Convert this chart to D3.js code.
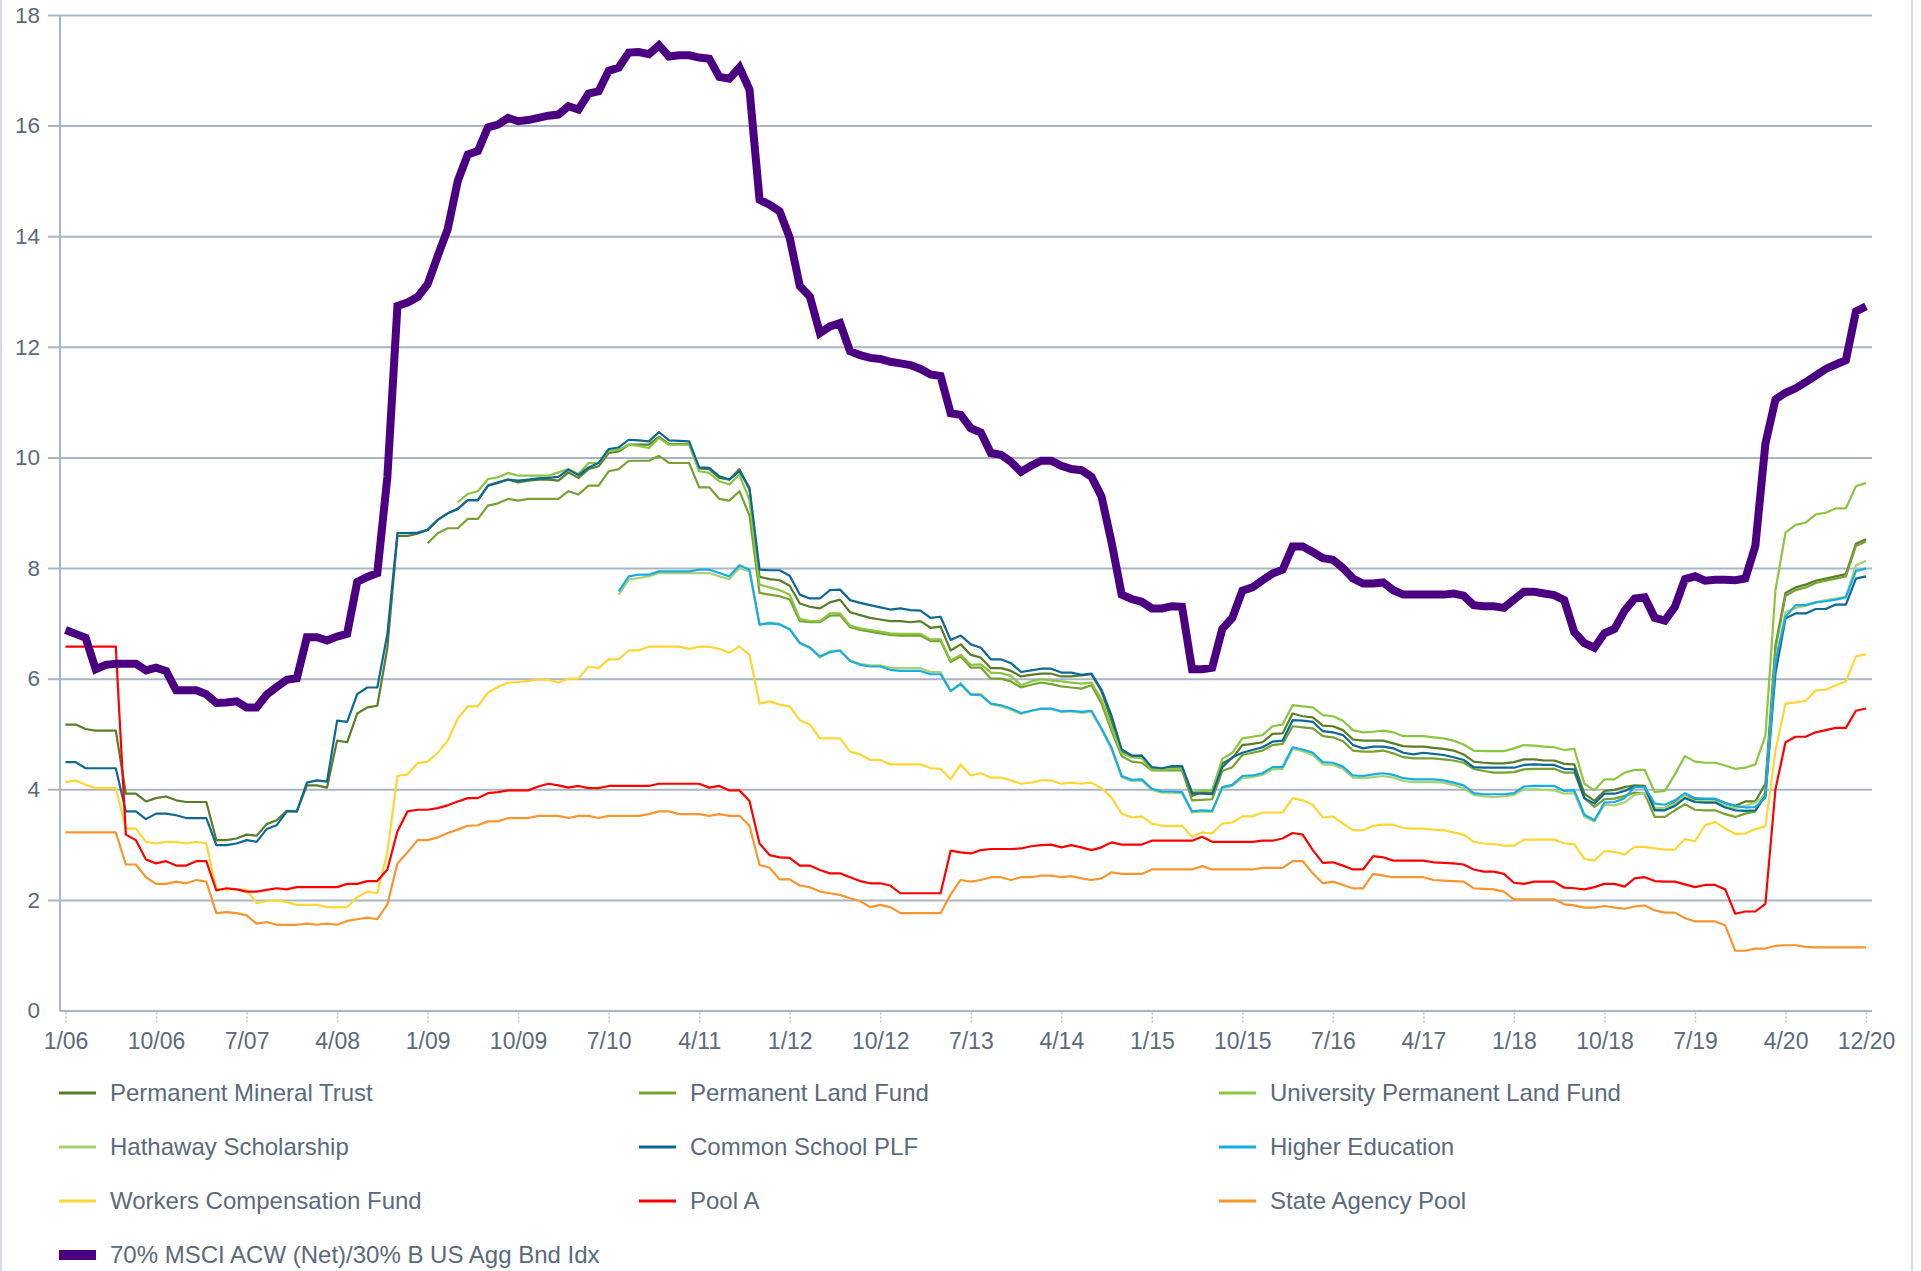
<!DOCTYPE html>
<html><head><meta charset="utf-8">
<script src="https://cdn.jsdelivr.net/npm/d3@7"></script>
<style>
html,body{margin:0;padding:0;background:#fff;}
svg{display:block;font-family:"Liberation Sans",Arial,sans-serif;}
</style></head>
<body><svg id="chart" width="1921" height="1271"></svg>
<script>
// ---------- DATA ----------
const startYear = 2006;
const months = d3.range(180).map(i => `${(i % 12) + 1}/${String((startYear + Math.floor(i / 12)) % 100).padStart(2, "0")}`);
const tickLabels = ["1/06","10/06","7/07","4/08","1/09","10/09","7/10","4/11","1/12","10/12","7/13","4/14","1/15","10/15","7/16","4/17","1/18","10/18","7/19","4/20","12/20"];
const yTicks = [0,2,4,6,8,10,12,14,16,18];

const permanentMineralTrust = [5.17,5.17,5.09,5.06,5.06,5.06,3.92,3.92,3.78,3.84,3.87,3.80,3.77,3.77,3.77,3.08,3.08,3.11,3.18,3.16,3.37,3.44,3.61,3.60,4.07,4.07,4.03,4.88,4.85,5.37,5.48,5.51,6.56,8.58,8.58,8.62,8.69,8.87,8.99,9.07,9.23,9.23,9.49,9.54,9.60,9.55,9.58,9.60,9.60,9.58,9.73,9.63,9.79,9.84,10.08,10.11,10.23,10.23,10.23,10.37,10.24,10.24,10.24,9.80,9.79,9.63,9.60,9.79,9.42,7.84,7.80,7.78,7.68,7.36,7.30,7.27,7.38,7.43,7.20,7.15,7.10,7.07,7.04,7.04,7.02,7.04,6.92,6.94,6.51,6.62,6.43,6.38,6.19,6.19,6.14,6.04,6.07,6.09,6.09,6.04,6.04,6.06,6.08,5.77,5.23,4.68,4.59,4.61,4.36,4.36,4.40,4.40,3.88,3.95,3.93,4.47,4.56,4.80,4.82,4.85,5.00,5.01,5.37,5.32,5.30,5.15,5.14,5.07,4.90,4.88,4.88,4.88,4.83,4.78,4.77,4.77,4.75,4.73,4.70,4.63,4.50,4.48,4.47,4.47,4.49,4.54,4.54,4.52,4.52,4.46,4.45,3.92,3.79,3.97,3.99,4.04,4.07,4.06,3.63,3.66,3.76,3.88,3.82,3.82,3.82,3.75,3.70,3.78,3.78,4.10,6.60,7.55,7.65,7.70,7.77,7.81,7.85,7.89,8.44,8.52];

const N36 = Array(36).fill(null), N39 = Array(39).fill(null), N55 = Array(55).fill(null);

const permanentLandFund = N36.concat([8.45,8.63,8.72,8.72,8.89,8.89,9.13,9.17,9.25,9.22,9.25,9.25,9.25,9.25,9.39,9.33,9.49,9.49,9.75,9.79,9.94,9.94,9.94,10.03,9.90,9.90,9.90,9.46,9.46,9.25,9.22,9.39,8.95,7.55,7.52,7.49,7.43,7.04,7.02,7.02,7.14,7.15,6.93,6.88,6.85,6.82,6.79,6.78,6.78,6.78,6.68,6.68,6.30,6.40,6.20,6.20,6.00,6.00,5.95,5.84,5.89,5.93,5.90,5.86,5.84,5.82,5.88,5.55,5.05,4.60,4.50,4.48,4.34,4.34,4.34,4.34,3.80,3.81,3.82,4.33,4.40,4.62,4.66,4.70,4.80,4.82,5.14,5.12,5.10,4.96,4.94,4.87,4.70,4.68,4.68,4.70,4.65,4.58,4.56,4.56,4.56,4.54,4.52,4.48,4.37,4.33,4.30,4.30,4.31,4.36,4.37,4.37,4.37,4.30,4.30,3.84,3.68,3.82,3.83,3.88,3.94,3.92,3.50,3.50,3.62,3.73,3.63,3.62,3.62,3.55,3.50,3.56,3.60,3.95,6.55,7.50,7.60,7.65,7.73,7.77,7.81,7.85,8.40,8.48]);

const universityPermanentLandFund = N39.concat([9.19,9.34,9.39,9.61,9.64,9.72,9.67,9.67,9.67,9.67,9.73,9.79,9.70,9.90,9.90,10.11,10.14,10.23,10.21,10.17,10.35,10.23,10.23,10.23,9.75,9.72,9.57,9.51,9.69,9.23,7.70,7.65,7.60,7.52,7.08,7.04,7.04,7.18,7.18,6.96,6.91,6.88,6.85,6.82,6.81,6.81,6.81,6.71,6.71,6.33,6.43,6.25,6.26,6.11,6.10,6.05,5.88,5.95,5.99,5.97,5.95,5.93,5.91,5.93,5.62,5.12,4.65,4.58,4.56,4.35,4.36,4.37,4.38,3.95,3.97,3.98,4.55,4.66,4.92,4.95,4.98,5.14,5.17,5.52,5.50,5.48,5.34,5.32,5.24,5.07,5.03,5.04,5.06,5.03,4.96,4.96,4.96,4.94,4.92,4.88,4.81,4.70,4.69,4.69,4.69,4.74,4.80,4.79,4.77,4.76,4.71,4.73,4.10,3.98,4.18,4.18,4.30,4.35,4.35,3.95,3.97,4.27,4.60,4.50,4.48,4.48,4.43,4.37,4.39,4.45,4.97,7.60,8.64,8.78,8.82,8.97,9.00,9.08,9.08,9.48,9.54]);

const hathawayScholarship = N55.concat([7.52,7.79,7.82,7.85,7.91,7.91,7.91,7.91,7.91,7.91,7.85,7.80,8.00,7.94,6.97,7.02,6.99,6.90,6.63,6.57,6.38,6.50,6.51,6.33,6.27,6.24,6.24,6.20,6.19,6.19,6.19,6.12,6.12,5.77,5.92,5.72,5.72,5.54,5.50,5.44,5.36,5.42,5.45,5.45,5.40,5.41,5.38,5.40,5.08,4.72,4.22,4.15,4.16,3.99,3.94,3.94,3.93,3.58,3.60,3.59,4.02,4.06,4.20,4.22,4.26,4.36,4.37,4.73,4.69,4.62,4.45,4.44,4.37,4.21,4.20,4.22,4.24,4.21,4.15,4.13,4.13,4.13,4.12,4.08,4.02,3.90,3.87,3.86,3.87,3.90,4.00,4.00,3.99,3.98,3.92,3.93,3.50,3.42,3.72,3.71,3.76,3.90,3.94,3.67,3.66,3.74,3.88,3.78,3.78,3.78,3.70,3.66,3.70,3.76,3.90,6.30,7.20,7.28,7.32,7.38,7.42,7.45,7.48,8.05,8.13]);

const commonSchoolPLF = [4.49,4.49,4.38,4.38,4.38,4.38,3.60,3.60,3.46,3.56,3.56,3.53,3.48,3.48,3.48,2.99,2.99,3.02,3.08,3.05,3.28,3.35,3.60,3.60,4.12,4.16,4.14,5.24,5.22,5.72,5.84,5.84,6.81,8.63,8.63,8.64,8.69,8.87,8.99,9.07,9.23,9.23,9.49,9.55,9.60,9.58,9.60,9.62,9.63,9.65,9.78,9.68,9.82,9.90,10.15,10.18,10.32,10.31,10.29,10.46,10.31,10.30,10.29,9.82,9.81,9.66,9.60,9.75,9.45,7.97,7.96,7.96,7.86,7.52,7.45,7.45,7.60,7.61,7.42,7.37,7.33,7.29,7.25,7.27,7.24,7.23,7.10,7.12,6.70,6.78,6.62,6.56,6.35,6.35,6.28,6.12,6.15,6.18,6.18,6.11,6.11,6.07,6.09,5.80,5.33,4.72,4.61,4.61,4.40,4.38,4.42,4.42,3.93,3.92,3.91,4.40,4.58,4.66,4.71,4.76,4.86,4.88,5.25,5.24,5.22,5.05,5.03,4.98,4.80,4.74,4.77,4.77,4.74,4.66,4.63,4.66,4.64,4.62,4.58,4.53,4.40,4.39,4.39,4.39,4.39,4.44,4.45,4.44,4.44,4.37,4.36,3.84,3.74,3.92,3.92,3.97,4.05,4.04,3.62,3.62,3.70,3.84,3.77,3.76,3.76,3.67,3.62,3.61,3.62,3.88,6.10,7.09,7.18,7.18,7.26,7.26,7.34,7.34,7.81,7.85];

const higherEducation = N55.concat([7.58,7.85,7.88,7.88,7.94,7.94,7.94,7.94,7.97,7.97,7.91,7.85,8.05,7.97,6.98,7.00,6.98,6.89,6.65,6.56,6.40,6.48,6.51,6.32,6.25,6.22,6.22,6.16,6.14,6.14,6.14,6.08,6.08,5.78,5.90,5.71,5.70,5.55,5.52,5.46,5.38,5.42,5.46,5.46,5.41,5.42,5.40,5.42,5.10,4.75,4.24,4.17,4.18,4.01,3.96,3.96,3.95,3.60,3.62,3.61,4.04,4.08,4.24,4.25,4.29,4.40,4.40,4.76,4.72,4.66,4.49,4.48,4.41,4.25,4.24,4.27,4.29,4.26,4.20,4.18,4.18,4.18,4.16,4.12,4.07,3.93,3.91,3.91,3.91,3.93,4.05,4.06,4.06,4.06,3.97,3.98,3.54,3.44,3.76,3.77,3.84,4.04,4.04,3.74,3.72,3.80,3.93,3.84,3.83,3.83,3.75,3.70,3.67,3.68,3.85,6.30,7.12,7.33,7.33,7.38,7.40,7.43,7.47,7.95,7.99]);

const workersCompensationFund = [4.13,4.16,4.08,4.02,4.02,4.02,3.29,3.29,3.05,3.02,3.05,3.05,3.02,3.05,3.02,2.19,2.19,2.19,2.18,1.94,1.98,1.99,1.96,1.91,1.91,1.91,1.87,1.87,1.87,2.05,2.15,2.12,2.86,4.24,4.27,4.47,4.50,4.66,4.88,5.28,5.50,5.50,5.75,5.85,5.93,5.94,5.96,5.98,5.98,5.93,6.00,6.00,6.22,6.19,6.35,6.35,6.51,6.51,6.58,6.58,6.58,6.58,6.54,6.58,6.58,6.54,6.47,6.58,6.43,5.55,5.59,5.53,5.50,5.25,5.17,4.92,4.92,4.92,4.68,4.63,4.53,4.53,4.45,4.45,4.45,4.45,4.38,4.37,4.18,4.45,4.25,4.29,4.21,4.21,4.16,4.10,4.12,4.16,4.16,4.10,4.12,4.10,4.12,4.02,3.85,3.56,3.49,3.51,3.38,3.34,3.34,3.34,3.14,3.22,3.20,3.38,3.40,3.51,3.51,3.58,3.58,3.58,3.84,3.80,3.72,3.49,3.51,3.38,3.26,3.26,3.34,3.36,3.36,3.30,3.29,3.29,3.27,3.26,3.22,3.18,3.05,3.02,3.01,2.98,2.98,3.09,3.09,3.09,3.09,3.02,3.01,2.74,2.71,2.88,2.87,2.82,2.96,2.96,2.93,2.91,2.91,3.10,3.06,3.35,3.41,3.29,3.19,3.20,3.28,3.33,4.70,5.55,5.57,5.60,5.79,5.80,5.88,5.95,6.40,6.44];

const poolA = [6.58,6.58,6.58,6.58,6.58,6.58,3.18,3.08,2.73,2.66,2.70,2.62,2.62,2.70,2.70,2.17,2.21,2.19,2.15,2.15,2.18,2.21,2.19,2.23,2.23,2.23,2.23,2.23,2.29,2.29,2.34,2.34,2.55,3.24,3.60,3.63,3.63,3.66,3.71,3.78,3.84,3.84,3.93,3.95,3.98,3.98,3.98,4.05,4.10,4.07,4.03,4.06,4.02,4.02,4.06,4.06,4.06,4.06,4.06,4.10,4.10,4.10,4.10,4.10,4.03,4.06,3.98,3.98,3.79,3.02,2.81,2.77,2.76,2.62,2.62,2.54,2.48,2.48,2.41,2.34,2.30,2.30,2.26,2.12,2.12,2.12,2.12,2.12,2.89,2.86,2.84,2.90,2.92,2.92,2.92,2.93,2.97,2.99,3.00,2.95,2.99,2.95,2.90,2.95,3.04,3.00,3.00,3.00,3.07,3.07,3.07,3.07,3.07,3.14,3.05,3.05,3.05,3.05,3.05,3.07,3.07,3.11,3.21,3.18,2.90,2.67,2.68,2.62,2.55,2.55,2.79,2.77,2.71,2.71,2.71,2.71,2.68,2.67,2.66,2.64,2.55,2.51,2.51,2.47,2.31,2.29,2.33,2.33,2.33,2.22,2.21,2.19,2.23,2.29,2.29,2.24,2.39,2.41,2.34,2.33,2.33,2.28,2.23,2.27,2.27,2.19,1.75,1.79,1.79,1.93,4.00,4.85,4.95,4.95,5.03,5.07,5.11,5.11,5.42,5.46];

const stateAgencyPool = [3.22,3.22,3.22,3.22,3.22,3.22,2.64,2.64,2.41,2.29,2.29,2.33,2.30,2.36,2.33,1.76,1.78,1.76,1.72,1.57,1.60,1.55,1.55,1.55,1.57,1.55,1.57,1.55,1.62,1.65,1.68,1.65,1.92,2.66,2.86,3.08,3.08,3.13,3.21,3.27,3.34,3.35,3.42,3.42,3.48,3.48,3.48,3.52,3.52,3.52,3.48,3.52,3.52,3.48,3.52,3.52,3.52,3.52,3.55,3.60,3.60,3.55,3.55,3.55,3.52,3.55,3.52,3.52,3.34,2.63,2.58,2.37,2.37,2.26,2.23,2.15,2.12,2.09,2.03,1.98,1.87,1.91,1.87,1.76,1.76,1.76,1.76,1.76,2.10,2.36,2.33,2.36,2.41,2.41,2.36,2.41,2.41,2.44,2.44,2.41,2.43,2.39,2.36,2.39,2.50,2.47,2.47,2.47,2.55,2.55,2.55,2.55,2.55,2.61,2.55,2.55,2.55,2.55,2.55,2.58,2.58,2.58,2.70,2.70,2.48,2.30,2.33,2.27,2.21,2.21,2.47,2.44,2.41,2.41,2.41,2.41,2.36,2.35,2.34,2.33,2.21,2.20,2.19,2.15,2.01,2.01,2.01,2.01,2.01,1.92,1.90,1.86,1.86,1.89,1.86,1.84,1.88,1.90,1.81,1.77,1.77,1.67,1.61,1.61,1.61,1.54,1.08,1.08,1.12,1.12,1.17,1.18,1.18,1.15,1.14,1.14,1.14,1.14,1.14,1.14];

const benchmark = [6.88,6.81,6.74,6.17,6.25,6.27,6.27,6.27,6.15,6.20,6.14,5.79,5.79,5.79,5.72,5.56,5.57,5.59,5.48,5.48,5.71,5.85,5.98,6.01,6.75,6.75,6.69,6.76,6.81,7.75,7.84,7.91,9.65,12.74,12.80,12.90,13.13,13.64,14.13,15.00,15.48,15.54,15.97,16.02,16.14,16.08,16.10,16.14,16.18,16.20,16.35,16.29,16.58,16.62,16.99,17.05,17.32,17.33,17.29,17.45,17.25,17.27,17.27,17.23,17.21,16.88,16.85,17.05,16.65,14.66,14.57,14.45,13.97,13.10,12.91,12.25,12.37,12.43,11.92,11.85,11.80,11.78,11.73,11.70,11.67,11.60,11.50,11.47,10.80,10.77,10.53,10.45,10.08,10.05,9.92,9.74,9.85,9.94,9.94,9.85,9.79,9.77,9.65,9.29,8.46,7.52,7.44,7.39,7.27,7.27,7.31,7.30,6.17,6.17,6.20,6.90,7.10,7.59,7.65,7.78,7.90,7.97,8.39,8.39,8.29,8.18,8.15,8.00,7.81,7.72,7.72,7.74,7.60,7.52,7.52,7.52,7.52,7.52,7.54,7.50,7.33,7.31,7.31,7.28,7.43,7.57,7.57,7.54,7.51,7.42,6.84,6.64,6.56,6.82,6.90,7.23,7.45,7.47,7.10,7.05,7.30,7.80,7.85,7.77,7.79,7.79,7.78,7.81,8.40,10.25,11.05,11.17,11.25,11.36,11.48,11.60,11.68,11.76,12.64,12.73];

const seriesNames = ["Permanent Mineral Trust","Permanent Land Fund","University Permanent Land Fund","Hathaway Scholarship","Common School PLF","Higher Education","Workers Compensation Fund","Pool A","State Agency Pool","70% MSCI ACW (Net)/30% B US Agg Bnd Idx"];
const seriesValues = [permanentMineralTrust, permanentLandFund, universityPermanentLandFund, hathawayScholarship, commonSchoolPLF, higherEducation, workersCompensationFund, poolA, stateAgencyPool, benchmark];
const seriesColors = ["#5a7d27","#77a232","#8cc540","#a9d273","#0d6893","#17ace4","#ffd634","#ff0000","#f7962f","#4b0082"];

// ---------- DRAW ----------
const svg = d3.select("#chart");
const gridColor = "#a9b5c3", textColor = "#5a6a7b";

const x = d3.scaleLinear().domain([0, months.length - 1]).range([65.5, 1866]);
const y = d3.scaleLinear().domain([0, 18]).range([1010.5, 15]);

// frame lines
svg.append("line").attr("x1",1).attr("x2",1).attr("y1",0).attr("y2",1271).attr("stroke","#d5dbe2").attr("stroke-width",2);
svg.append("line").attr("x1",1912).attr("x2",1912).attr("y1",0).attr("y2",1271).attr("stroke","#d5dbe2").attr("stroke-width",2);

// y grid + labels
const yAxis = d3.axisLeft(y).tickValues(yTicks).tickSize(-(1872 - 48)).tickPadding(8).tickFormat(d3.format("d"));
const gy = svg.append("g").attr("transform", "translate(1872,0)").call(yAxis);
gy.select(".domain").remove();
gy.selectAll(".tick line").attr("stroke", gridColor).attr("stroke-width", 2)
  .attr("x2", d => d === 0 ? -(1872 - 60) : -(1872 - 48));
gy.selectAll(".tick text").attr("x", -(1872 - 40)).attr("fill", textColor)
  .style("font-size", "22.5px").attr("text-anchor", "end");
// y axis line
svg.append("line").attr("x1",60).attr("x2",60).attr("y1",y(18)).attr("y2",y(0)+1).attr("stroke",gridColor).attr("stroke-width",2);

// x axis ticks and labels
const tickIdx = tickLabels.map(t => months.indexOf(t));
const xAxis = d3.axisBottom(x).tickValues(tickIdx).tickSize(12).tickPadding(8).tickFormat(i => months[i]);
const gx = svg.append("g").attr("transform", `translate(0,${y(0) + 2})`).call(xAxis);
gx.select(".domain").remove();
gx.selectAll(".tick line").attr("stroke", "#b9c2cc").attr("stroke-width", 1.5).attr("stroke-dasharray", "2,2");
gx.selectAll(".tick text").attr("fill", textColor).style("font-size", "23px");

// lines
const line = d3.line().defined(d => d != null).x((d, i) => x(i)).y(d => y(d));
seriesValues.forEach((vals, s) => {
  const isBench = s === seriesValues.length - 1;
  svg.append("path").datum(vals)
    .attr("fill", "none")
    .attr("stroke", seriesColors[s])
    .attr("stroke-width", isBench ? 8 : 2.2)
    .attr("stroke-linejoin", isBench ? "miter" : "round")
    .attr("d", line);
});

// legend
const colX = [59, 639, 1219], rowY = [1093, 1147, 1201, 1255];
const leg = svg.append("g");
seriesNames.forEach((name, i) => {
  const cx = colX[i % 3], cy = rowY[Math.floor(i / 3)];
  const isBench = i === seriesNames.length - 1;
  leg.append("line").attr("x1", cx).attr("x2", cx + 37).attr("y1", cy).attr("y2", cy)
    .attr("stroke", seriesColors[i]).attr("stroke-width", isBench ? 10 : 3);
  leg.append("text").attr("x", cx + 51).attr("y", cy).attr("dy", "0.35em")
    .attr("fill", textColor).style("font-size", "24px").text(name);
});
</script>
</body></html>
